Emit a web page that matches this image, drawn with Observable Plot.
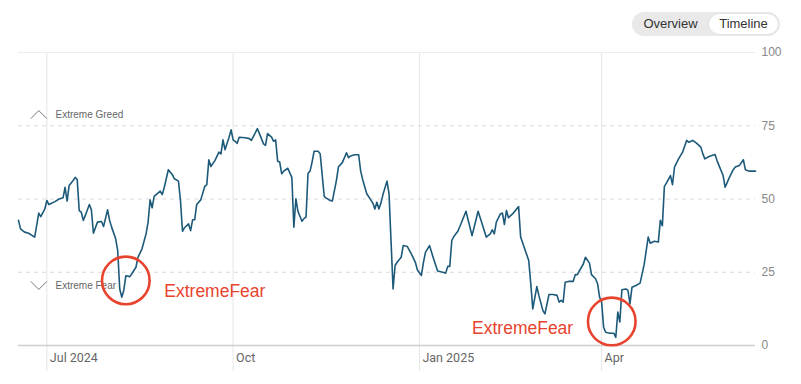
<!DOCTYPE html>
<html><head><meta charset="utf-8">
<script src="https://cdn.jsdelivr.net/npm/d3@7"></script>
<script src="https://cdn.jsdelivr.net/npm/@observablehq/plot@0.6"></script>
<style>
html,body{margin:0;padding:0;background:#fff;}
#wrap{position:relative;width:801px;height:384px;overflow:hidden;}
#toggle{position:absolute;left:632px;top:12px;width:148px;height:24px;border-radius:12px;background:#e9e9e9;font-family:"Liberation Sans",Arial,sans-serif;font-size:13px;color:#333;}
#toggle .opt{position:absolute;top:0;height:24px;line-height:24px;text-align:center;}
#toggle .ov{left:0;width:77px;}
#toggle .tl{left:77px;top:2px;width:69px;height:20px;line-height:20px;background:#fff;border-radius:10px;box-shadow:0 0 1px rgba(0,0,0,0.15);}
#chart svg{display:block;}
</style>
</head><body>
<div id="wrap">
<div id="chart"></div>
<div id="toggle"><div class="opt ov">Overview</div><div class="opt tl">Timeline</div></div>
</div>
<script>
const dates = ["2024-06-17","2024-06-18","2024-06-20","2024-06-22","2024-06-25","2024-06-27","2024-06-28","2024-06-30",
"2024-07-01","2024-07-02","2024-07-05","2024-07-07","2024-07-09","2024-07-10","2024-07-11","2024-07-12","2024-07-14","2024-07-15","2024-07-16","2024-07-17","2024-07-18","2024-07-19","2024-07-20","2024-07-22","2024-07-23","2024-07-24","2024-07-26","2024-07-28","2024-07-29","2024-07-31",
"2024-08-01","2024-08-02","2024-08-04","2024-08-05","2024-08-06","2024-08-07","2024-08-08","2024-08-09","2024-08-11","2024-08-12","2024-08-14","2024-08-15","2024-08-17","2024-08-19","2024-08-20","2024-08-21","2024-08-22","2024-08-23","2024-08-26","2024-08-27","2024-08-28","2024-08-30",
"2024-09-01","2024-09-02","2024-09-04","2024-09-05","2024-09-06","2024-09-07","2024-09-09","2024-09-10","2024-09-11","2024-09-12","2024-09-13","2024-09-15","2024-09-17","2024-09-18","2024-09-19","2024-09-20","2024-09-22","2024-09-24","2024-09-25","2024-09-26","2024-09-27","2024-09-29","2024-09-30",
"2024-10-01","2024-10-02","2024-10-03","2024-10-04","2024-10-07","2024-10-09","2024-10-10","2024-10-13","2024-10-14","2024-10-16","2024-10-17","2024-10-18","2024-10-20","2024-10-21","2024-10-22","2024-10-23","2024-10-24","2024-10-25","2024-10-26","2024-10-28","2024-10-30","2024-10-31",
"2024-11-01","2024-11-02","2024-11-04","2024-11-05","2024-11-06","2024-11-07","2024-11-08","2024-11-09","2024-11-10","2024-11-12","2024-11-13","2024-11-15","2024-11-16","2024-11-18","2024-11-19","2024-11-21","2024-11-22","2024-11-24","2024-11-26","2024-11-27","2024-11-28","2024-11-30",
"2024-12-02","2024-12-03","2024-12-04","2024-12-06","2024-12-08","2024-12-09","2024-12-10","2024-12-11","2024-12-12","2024-12-13","2024-12-14","2024-12-16","2024-12-17","2024-12-19","2024-12-20","2024-12-21","2024-12-23","2024-12-24","2024-12-26","2024-12-28","2024-12-30","2024-12-31",
"2025-01-02","2025-01-03","2025-01-04","2025-01-06","2025-01-08","2025-01-10","2025-01-13","2025-01-14","2025-01-15","2025-01-16","2025-01-17","2025-01-18","2025-01-20","2025-01-21","2025-01-24","2025-01-27","2025-01-30",
"2025-02-01","2025-02-03","2025-02-05","2025-02-06","2025-02-07","2025-02-08","2025-02-10","2025-02-11","2025-02-12","2025-02-13","2025-02-14","2025-02-16","2025-02-19","2025-02-20","2025-02-22","2025-02-24","2025-02-25","2025-02-26","2025-02-28",
"2025-03-01","2025-03-03","2025-03-04","2025-03-06","2025-03-08","2025-03-10","2025-03-11","2025-03-12","2025-03-13","2025-03-14","2025-03-16","2025-03-18","2025-03-19","2025-03-20","2025-03-23","2025-03-24","2025-03-26","2025-03-27","2025-03-29","2025-03-30","2025-03-31",
"2025-04-01","2025-04-02","2025-04-03","2025-04-05","2025-04-07","2025-04-08","2025-04-09","2025-04-10","2025-04-11","2025-04-13","2025-04-14","2025-04-15","2025-04-16","2025-04-18","2025-04-20","2025-04-22","2025-04-24","2025-04-25","2025-04-27","2025-04-29","2025-04-30",
"2025-05-01","2025-05-02","2025-05-03","2025-05-05","2025-05-06","2025-05-07","2025-05-09","2025-05-11","2025-05-13","2025-05-14","2025-05-16","2025-05-18","2025-05-20","2025-05-21","2025-05-22","2025-05-24","2025-05-27","2025-05-28","2025-05-29","2025-05-31",
"2025-06-01","2025-06-03","2025-06-05","2025-06-06","2025-06-08","2025-06-10","2025-06-11","2025-06-13","2025-06-16"];
const values = [42.7,39.8,38.7,38.3,37.0,45.2,44.0,46.6,
49.5,48.1,49.1,50.0,50.4,54.0,49.3,54.6,56.3,57.4,56.6,46.0,45.5,42.7,44.4,48.1,46.3,38.3,42.1,42.3,40.6,46.3,
42.7,40.4,36.4,32.4,19.3,16.5,18.8,23.8,23.5,24.5,26.7,30.1,33.0,38.1,42.1,49.7,47.0,50.9,52.7,51.5,54.0,60.0,
58.3,56.9,56.1,49.5,39.0,40.2,41.5,39.2,42.9,42.9,48.1,49.7,54.3,54.9,63.4,61.1,63.1,66.0,65.4,70.2,66.8,71.1,73.6,
70.2,69.7,69.0,71.1,70.9,70.6,70.0,74.0,72.3,68.8,68.3,72.3,71.1,69.7,70.2,62.9,62.6,58.6,59.5,60.5,57.4,40.4,
50.1,45.8,42.4,43.3,43.8,58.8,59.5,62.6,66.3,66.3,65.4,50.9,50.3,49.5,49.3,56.3,60.9,62.5,65.8,64.1,64.7,65.1,
65.1,59.5,56.6,51.8,49.7,48.6,46.6,48.9,46.6,48.6,51.5,56.1,51.8,19.3,27.3,28.4,30.1,34.1,33.8,31.3,28.4,25.8,
23.9,28.4,31.8,34.1,29.6,25.4,24.9,24.7,27.0,27.0,35.8,37.2,39.0,40.6,45.8,37.5,45.8,
41.5,37.0,38.1,39.5,38.1,42.1,44.9,45.2,41.3,46.1,43.6,44.9,47.4,37.0,33.0,29.0,21.1,12.5,20.1,
17.1,11.9,10.8,17.4,17.4,17.1,14.8,15.4,14.8,21.6,21.9,21.9,24.2,24.2,27.9,30.1,28.1,24.2,22.8,21.1,16.5,
14.8,6.2,4.5,4.2,4.2,2.8,11.4,8.0,19.0,19.3,18.8,14.2,19.9,20.5,21.3,27.6,37.0,34.9,35.6,35.3,42.7,
40.9,54.3,55.4,58.0,54.9,60.9,63.7,66.0,70.0,69.4,70.0,69.0,67.7,65.4,63.7,64.5,65.2,63.1,61.4,58.0,
54.0,57.2,60.0,60.9,61.4,63.4,60.0,59.5,59.5];

const xDomain = ["2024-06-17","2025-06-16"];
const xTickDates = ["2024-07-01","2024-10-01","2025-01-01","2025-04-01"];
const xTickLabels = ["Jul 2024","Oct","Jan 2025","Apr"];
const yTicks = [0,25,50,75,100];
const zoneLabels = ["Extreme Greed","Extreme Fear"];
const zoneValues = [78.8,20.5];
const circleDates = ["2024-08-09","2025-04-06"];
const circleValues = [22.2,8.2];
const noteDates = ["2024-08-28","2025-01-27"];
const noteValues = [16.7,4.0];
const noteText = "ExtremeFear";

const P = s => new Date(s + "T00:00:00Z");
const data = dates.map((d,i)=>({date:P(d), value:values[i]}));
const ticks = xTickDates.map((d,i)=>({date:P(d), label:xTickLabels[i]}));
const zones = zoneLabels.map((l,i)=>({label:l, value:zoneValues[i], up:i===0}));
const circles = circleDates.map((d,i)=>({date:P(d), value:circleValues[i]}));
const notes = noteDates.map((d,i)=>({date:P(d), value:noteValues[i]}));

const chevUp = {draw(ctx, size){const r=Math.sqrt(size/Math.PI); ctx.moveTo(-r, r/2); ctx.lineTo(0,-r/2); ctx.lineTo(r, r/2);}};
const chevDown = {draw(ctx, size){const r=Math.sqrt(size/Math.PI); ctx.moveTo(-r,-r/2); ctx.lineTo(0, r/2); ctx.lineTo(r,-r/2);}};

const chart = Plot.plot({
  width: 801, height: 384,
  marginLeft: 18, marginRight: 46, marginTop: 52, marginBottom: 39,
  style: {fontFamily: "'Liberation Sans', Arial, sans-serif", background: "#fff", overflow: "visible"},
  x: {type: "utc", domain: xDomain.map(P), axis: null},
  y: {domain: [0,100], axis: null},
  marks: [
    Plot.ruleX(ticks, {x: "date", stroke: "#e6e6e6", strokeWidth: 1, insetBottom: -26}),
    Plot.ruleY([100], {stroke: "#ececec", strokeWidth: 1}),
    Plot.ruleY([25,50,75], {stroke: "#dcdcdc", strokeWidth: 1, strokeDasharray: "4,4"}),
    Plot.ruleY([0], {stroke: "#cfcfcf", strokeWidth: 1.5}),
    Plot.dot(zones.filter(d=>d.up), {y: "value", frameAnchor: "left", dx: 20.3, r: 8, symbol: chevUp, stroke: "#777", strokeWidth: 1, fill: "none"}),
    Plot.dot(zones.filter(d=>!d.up), {y: "value", frameAnchor: "left", dx: 20.3, r: 8, symbol: chevDown, stroke: "#777", strokeWidth: 1, fill: "none"}),
    Plot.text(zones, {y: "value", text: "label", frameAnchor: "left", dx: 37, textAnchor: "start", fill: "#666", fontSize: 10}),
    Plot.line(data, {x: "date", y: "value", stroke: "#1d5a7a", strokeWidth: 1.6, curve: "linear"}),
    Plot.dot(circles, {x: "date", y: "value", r: 23.8, stroke: "#e8432e", strokeWidth: 2.6, fill: "none"}),
    Plot.text(notes, {x: "date", y: "value", text: () => noteText, textAnchor: "start", lineAnchor: "bottom", fill: "#e8432e", fontSize: 17.5}),
    Plot.text(ticks, {x: "date", text: "label", frameAnchor: "bottom", dy: 16, dx: 3, textAnchor: "start", fill: "#666", fontSize: 12.5, fontFamily: "Roboto, 'Liberation Sans', sans-serif"}),
    Plot.text(yTicks, {y: d => d, text: d => String(d), frameAnchor: "right", dx: 6, textAnchor: "start", fill: "#888", fontSize: 12})
  ]
});
document.getElementById("chart").appendChild(chart);
</script>
</body></html>
